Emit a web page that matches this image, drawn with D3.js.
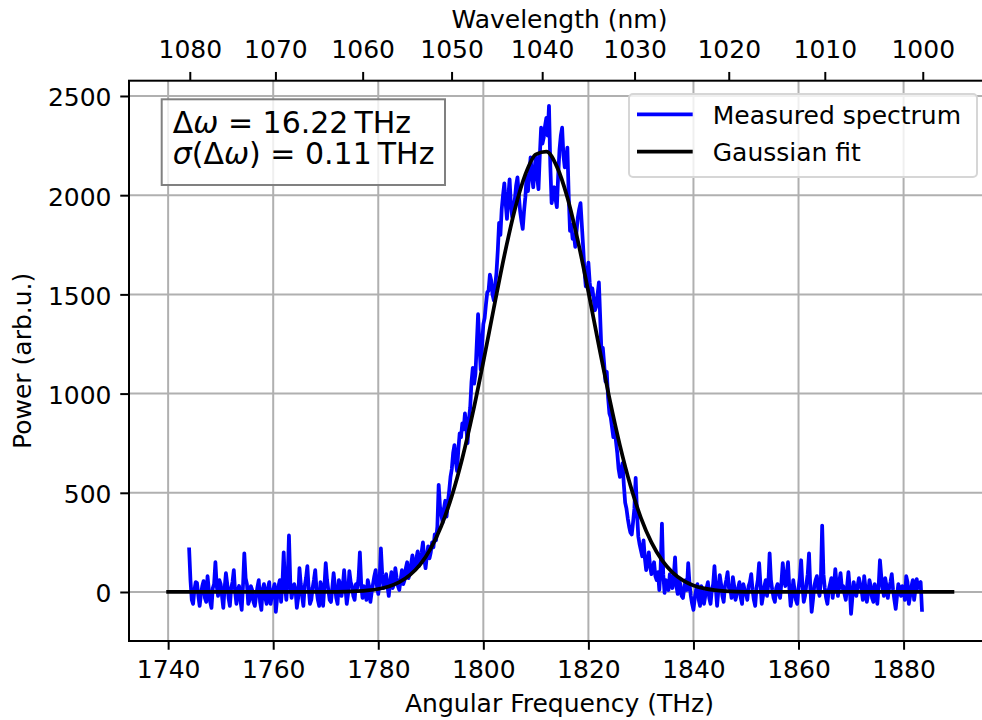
<!DOCTYPE html>
<html>
<head>
<meta charset="utf-8">
<script src="https://cdn.jsdelivr.net/npm/d3@7"></script>
<style>
  body { margin: 0; background: #fff; }
  svg { display: block; }
  text { font-family: "DejaVu Sans", sans-serif; fill: #000; }
</style>
</head>
<body>
<svg id="chart" width="982" height="720"></svg>
<script>
// ---- data -------------------------------------------------------------
// Tick values
const freqTicks = [1740, 1760, 1780, 1800, 1820, 1840, 1860, 1880];
const powerTicks = [0, 500, 1000, 1500, 2000, 2500];
const wavelengthTicks = [1080, 1070, 1060, 1050, 1040, 1030, 1020, 1010, 1000];

// omega [THz] = 2*pi*c / lambda, with c in nm*THz
const TWO_PI_C = 1883651.567;

// Measured spectrum, sampled every 0.25 THz starting at 1744 THz (one row = 5 THz)
const specStart = 1744.0;
const specStep = 0.25;
const specPower = [
  215, 60, -40, -60, 10, 50, 45, -20, -70, -10, 30, 55, -30, -50, 80, 10, -50, -80, 20, 40,
  150, 30, -20, 60, 40, -20, -80, 20, 95, 40, -30, -70, 20, 50, 110, 0, -60, 10, 30, -40,
  -90, 30, 195, 70, 40, -60, -40, 30, 10, -50, -70, -20, 25, 60, -50, -90, 15, 40, -30, -60,
  20, 50, -60, -20, 10, 40, -100, -30, 30, 60, -50, 40, 200, 30, -40, 60, 285, 50, -30, 10,
  40, 10, -80, -30, 120, 40, -20, -70, 30, 70, 130, 20, -60, -40, 20, 60, 110, 10, -40, -70,
  50, 20, -70, 30, 145, 60, 10, -40, -50, 20, 95, 30, -30, -60, 60, 40, -20, 30, 110, 20,
  -60, -10, 105, 50, 30, -20, -40, 40, 20, 70, 200, 40, -30, 30, 10, -40, 60, 30, -50, 0,
  40, 80, 110, 30, -10, 60, 220, 90, 20, 40, 90, 30, -20, 50, 100, 20, 40, 120, 70, 30,
  10, 60, 110, 40, 60, 120, 150, 70, 90, 140, 185, 110, 120, 170, 205, 130, 160, 200, 250, 170,
  120, 180, 230, 170, 200, 250, 225, 290, 260, 330, 540, 430, 390, 350, 420, 460, 380, 450, 510, 580,
  620, 700, 740, 660, 610, 720, 800, 780, 850, 820, 900, 830, 750, 870, 930, 1060, 1130, 1050, 1100, 1250,
  1400, 1250, 1120, 1240, 1350, 1380, 1450, 1510, 1520, 1600, 1570, 1500, 1470, 1540, 1610, 1720, 1860, 1800, 1930, 2000,
  2060, 1960, 1880, 1990, 2080, 1950, 1890, 1940, 1980, 2050, 2090, 2000, 1920, 1870, 1830, 1920, 1990, 2100, 2020, 2110,
  2190, 2100, 2040, 2130, 2200, 2090, 2030, 2200, 2340, 2260, 2290, 2350, 2390, 2300, 2450, 2150, 1960, 2000, 2040, 1980,
  1940, 2100, 2230, 2300, 2340, 2200, 2140, 2180, 2240, 2000, 1820, 1850, 1780, 1800, 1740, 1820, 1890, 1930, 1960, 1850,
  1740, 1620, 1540, 1600, 1660, 1560, 1500, 1530, 1480, 1420, 1440, 1500, 1560, 1380, 1200, 1230, 1150, 1060, 1110, 980,
  900, 880, 830, 780, 830, 760, 700, 620, 580, 610, 650, 540, 450, 420, 370, 330, 300, 290, 350, 420,
  575, 400, 280, 240, 210, 180, 260, 170, 110, 150, 200, 130, 90, 120, 150, 80, 60, 100, 10, 120,
  345, 90, -5, 60, 40, 10, 90, 50, 20, 80, 175, 30, -10, 60, 40, -20, -30, 20, 60, 10,
  145, 40, -20, -60, -90, -30, 10, 40, -40, -70, 30, 0, -60, -20, 20, 50, -30, -60, 10, 40,
  130, 20, -70, 10, 85, 40, -20, -50, 30, 60, 100, 20, 20, -30, 75, 30, -40, -10, 20, 50,
  -30, -60, 40, 10, -10, -40, 30, 50, 90, 10, -40, -70, 20, 60, 145, 40, -60, -20, 30, 60,
  -20, 40, 195, 60, 10, -30, -50, 20, 40, -10, -30, 50, 145, 60, 30, 90, 150, 20, -70, -20,
  60, 10, -40, -60, 20, 70, 160, 30, -50, -20, 40, 90, 195, 20, -100, -40, 30, 60, 80, 10,
  -20, 60, 335, 90, 20, -30, -60, 10, 40, 70, -30, 30, 115, 40, -20, 50, 95, 20, 30, -10,
  -40, 30, 100, 20, -110, -30, 50, 10, -20, 30, 70, 40, 10, -40, 80, 20, -50, -10, 60, 30,
  -30, -50, 40, 10, -60, 30, 160, 80, 20, -20, 70, 30, -30, 20, 50, 90, 10, -40, -85, -20,
  40, 10, -20, 30, 20, -40, 80, 50, -60, -20, 30, 60, -40, 10, 65, 20, 40, 50, -90
];

// Gaussian fit curve
const fitFreq = [
  1740, 1742, 1744, 1746, 1748, 1750, 1752, 1754, 1756, 1758,
  1760, 1762, 1764, 1766, 1768, 1770, 1772, 1774, 1776, 1778,
  1780, 1782, 1784, 1786, 1788, 1790, 1792, 1794, 1796, 1798,
  1800, 1802, 1804, 1806, 1808, 1810, 1812, 1814, 1816, 1818,
  1820, 1822, 1824, 1826, 1828, 1830, 1832, 1834, 1836, 1838,
  1840, 1842, 1844, 1846, 1848, 1850, 1852, 1854, 1856, 1858,
  1860, 1862, 1864, 1866, 1868, 1870, 1872, 1874, 1876, 1878,
  1880, 1882, 1884, 1886, 1888, 1889.3
];
const fitPower = [
  0, 0, 0, 0, 0, 0, 0, 0, 0, 0,
  0, 0, 0, 0, 0.1, 0.3, 0.8, 1.8, 3.9, 7.8,
  15.0, 27.9, 49.7, 85.0, 139.4, 219.9, 332.7, 483.3, 674.2, 902.5,
  1159.9, 1431.3, 1695.5, 1928.0, 2104.9, 2205.9, 2219.4, 2143.8, 1987.8, 1769.6,
  1512.3, 1240.7, 977.2, 738.9, 536.5, 373.8, 249.9, 160.6, 99.0, 58.6,
  33.3, 18.2, 9.5, 4.8, 2.2, 1.0, 0.4, 0.1, 0, 0,
  0, 0, 0, 0, 0, 0, 0, 0, 0, 0,
  0, 0, 0, 0, 0, 0
];

const fitLabelLines = [
  [{ t: "Δ" }, { t: "ω", it: true }, { t: " = 16.22\u2009THz" }],
  [{ t: "σ", it: true }, { t: "(Δ" }, { t: "ω", it: true }, { t: ") = 0.11\u2009THz" }]
];

const legendItems = [
  { label: "Measured spectrum", color: "#0000ff" },
  { label: "Gaussian fit", color: "#000000" }
];

// ---- layout -----------------------------------------------------------
const svg = d3.select("#chart");
const plot = { left: 129, right: 990, top: 80.7, bottom: 641 };
const FONT = 25;
const LW = 3.75;

svg.append("rect").attr("width", 982).attr("height", 720).attr("fill", "#fff");

const x = d3.scaleLinear().domain([1732.55, 1896.45]).range([plot.left, plot.right]);
const y = d3.scaleLinear().domain([-247, 2577]).range([plot.bottom, plot.top]);

// grid
const grid = svg.append("g").attr("stroke", "#b0b0b0").attr("stroke-width", 2);
grid.selectAll("line.vx").data(freqTicks).join("line")
  .attr("x1", d => x(d)).attr("x2", d => x(d))
  .attr("y1", plot.top).attr("y2", plot.bottom);
grid.selectAll("line.hy").data(powerTicks).join("line")
  .attr("x1", plot.left).attr("x2", plot.right)
  .attr("y1", d => y(d)).attr("y2", d => y(d));

// series
const spectrum = specPower.map((p, i) => [specStart + i * specStep, p]);
const fit = fitFreq.map((f, i) => [f, fitPower[i]]);

svg.append("path")
  .datum(spectrum)
  .attr("fill", "none")
  .attr("stroke", "#0000ff")
  .attr("stroke-width", LW)
  .attr("stroke-linejoin", "round")
  .attr("stroke-linecap", "square")
  .attr("d", d3.line().x(d => x(d[0])).y(d => y(d[1])));

svg.append("path")
  .datum(fit)
  .attr("fill", "none")
  .attr("stroke", "#000")
  .attr("stroke-width", LW)
  .attr("stroke-linejoin", "round")
  .attr("stroke-linecap", "square")
  .attr("d", d3.line().x(d => x(d[0])).y(d => y(d[1])).curve(d3.curveMonotoneX));

// axes
function styleAxis(g) {
  g.attr("font-family", null).attr("font-size", null);
  g.select(".domain").remove();
  g.selectAll(".tick line").attr("stroke", "#000").attr("stroke-width", 2);
  g.selectAll(".tick text").style("font-size", FONT + "px").attr("fill", "#000");
}

const xAxis = svg.append("g")
  .attr("transform", `translate(0,${plot.bottom})`)
  .call(d3.axisBottom(x).tickValues(freqTicks).tickFormat(d3.format("d")).tickSize(8.75).tickSizeOuter(0))
  .call(styleAxis);
xAxis.selectAll(".tick text").attr("y", 37).attr("dy", 0);

const yAxis = svg.append("g")
  .attr("transform", `translate(${plot.left},0)`)
  .call(d3.axisLeft(y).tickValues(powerTicks).tickFormat(d3.format("d")).tickSize(8.75).tickPadding(8.75).tickSizeOuter(0))
  .call(styleAxis);
yAxis.selectAll(".tick text").attr("dy", "0.4em");

const wlAxis = svg.append("g")
  .attr("transform", `translate(0,${plot.top})`)
  .call(d3.axisTop(x)
    .tickValues(wavelengthTicks.map(w => TWO_PI_C / w))
    .tickFormat((d, i) => String(wavelengthTicks[i]))
    .tickSize(8.75).tickSizeOuter(0))
  .call(styleAxis);
wlAxis.selectAll(".tick text").attr("y", -23).attr("dy", 0);

// frame
svg.append("rect")
  .attr("x", plot.left).attr("y", plot.top)
  .attr("width", plot.right - plot.left).attr("height", plot.bottom - plot.top)
  .attr("fill", "none").attr("stroke", "#000").attr("stroke-width", 2);

// axis titles
svg.append("text")
  .attr("x", (plot.left + plot.right) / 2).attr("y", 711.5)
  .attr("text-anchor", "middle").style("font-size", FONT + "px")
  .text("Angular Frequency (THz)");
svg.append("text")
  .attr("x", (plot.left + plot.right) / 2).attr("y", 27.5)
  .attr("text-anchor", "middle").style("font-size", FONT + "px")
  .text("Wavelength (nm)");
svg.append("text")
  .attr("transform", `translate(31,${(plot.top + plot.bottom) / 2}) rotate(-90)`)
  .attr("text-anchor", "middle").style("font-size", FONT + "px")
  .text("Power (arb.u.)");

// fit result box
const box = svg.append("g");
box.append("rect")
  .attr("x", 161.7).attr("y", 99.3).attr("width", 283.3).attr("height", 85.7)
  .attr("fill", "#fff").attr("fill-opacity", 0.8)
  .attr("stroke", "#808080").attr("stroke-width", 2);
fitLabelLines.forEach((parts, li) => {
  const t = box.append("text")
    .attr("x", 172.7).attr("y", 132.7 + li * 31.5)
    .style("font-size", "30px");
  parts.forEach(p => {
    t.append("tspan").attr("font-style", p.it ? "italic" : "normal").text(p.t);
  });
});

// legend
const legend = svg.append("g");
legend.append("rect")
  .attr("x", 629).attr("y", 94).attr("width", 348).attr("height", 83).attr("rx", 4)
  .attr("fill", "#fff").attr("fill-opacity", 0.8)
  .attr("stroke", "#d6d6d6").attr("stroke-width", 2);
legendItems.forEach((it, i) => {
  const yy = 114.3 + i * 37.4;
  legend.append("line")
    .attr("x1", 637).attr("x2", 692.7).attr("y1", yy).attr("y2", yy)
    .attr("stroke", it.color).attr("stroke-width", LW);
  legend.append("text")
    .attr("x", 712.7).attr("y", yy + 9.5)
    .style("font-size", FONT + "px")
    .text(it.label);
});
</script>
</body>
</html>
